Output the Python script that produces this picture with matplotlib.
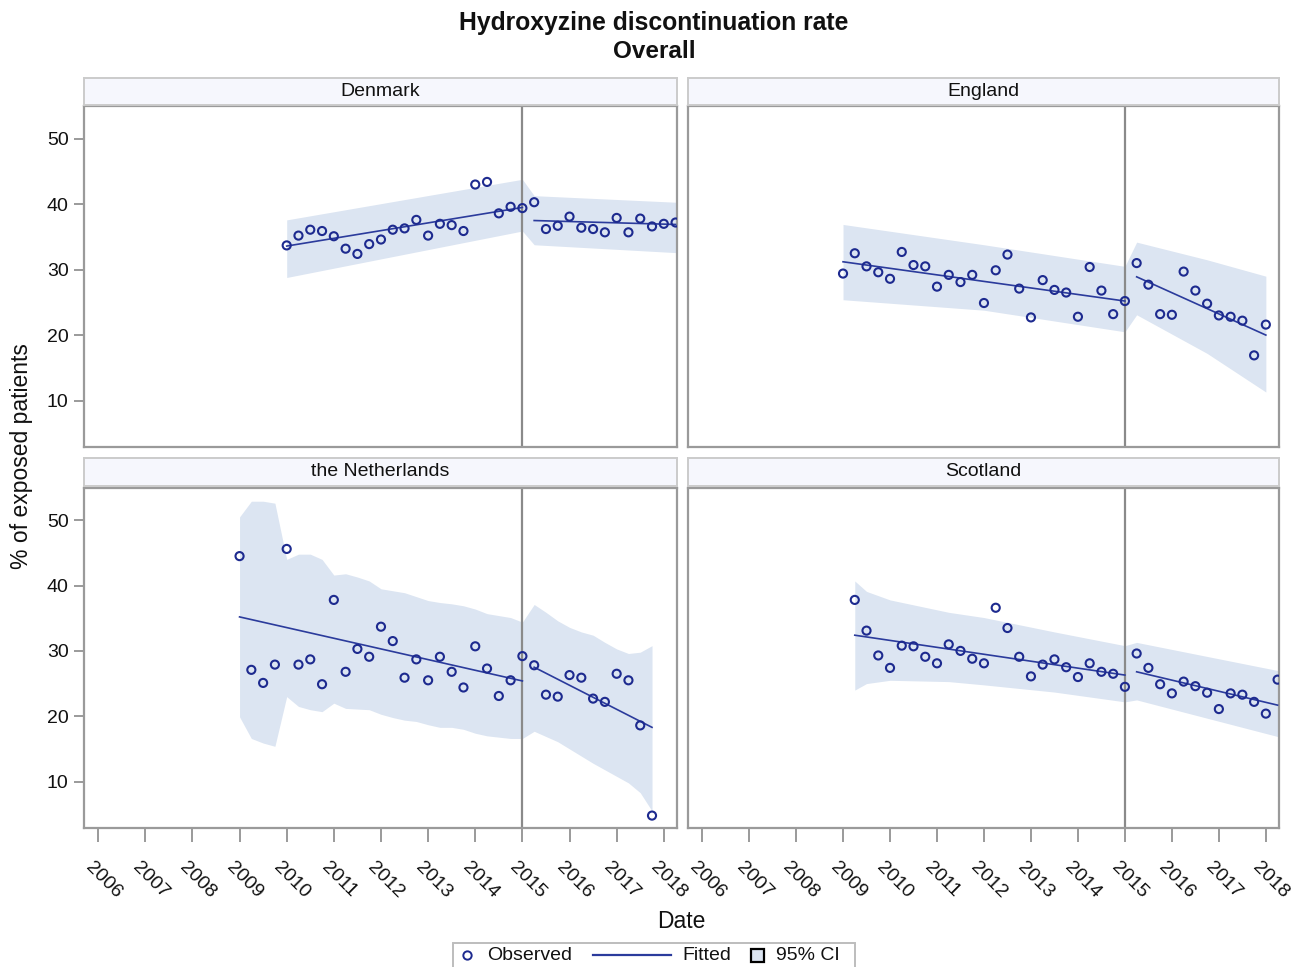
import numpy as np
import matplotlib
matplotlib.use("Agg")
import matplotlib.pyplot as plt
from matplotlib.lines import Line2D
from matplotlib.patches import Rectangle
from matplotlib.transforms import ScaledTranslation

plt.rcParams["font.family"] = ["Liberation Sans", "DejaVu Sans"]

years = list(range(2006, 2019))
break_year = 2015.0

dk_start = 2010.0
dk_obs = [33.7, 35.2, 36.1, 35.9, 35.1, 33.2, 32.4, 33.9, 34.6, 36.1, 36.3, 37.6,
          35.2, 37.0, 36.8, 35.9, 43.0, 43.4, 38.6, 39.6, 39.4,
          40.3, 36.2, 36.7, 38.1, 36.4, 36.2, 35.7, 37.9, 35.7, 37.8, 36.6, 37.0, 37.2]
dk_fit_x = [2010.0, 2015.0, 2015.25, 2018.25]
dk_fit_y = [33.6, 39.5, 37.5, 36.9]
dk_band_x = [2010.0, 2015.0, 2015.25, 2018.25]
dk_band_lo = [28.8, 35.9, 33.8, 32.6]
dk_band_hi = [37.6, 43.8, 41.3, 40.3]

en_start = 2009.0
en_obs = [29.4, 32.5, 30.5, 29.6, 28.6, 32.7, 30.7, 30.5, 27.4, 29.2, 28.1, 29.2,
          24.9, 29.9, 32.3, 27.1, 22.7, 28.4, 26.9, 26.5, 22.8, 30.4, 26.8, 23.2, 25.2,
          31.0, 27.7, 23.2, 23.1, 29.7, 26.8, 24.8, 23.0, 22.8, 22.2, 16.9, 21.6]
en_fit_x = [2009.0, 2015.0, 2015.25, 2018.0]
en_fit_y = [31.2, 25.2, 28.9, 20.0]
en_band_x = [2009.0, 2012.0, 2015.0, 2015.25, 2016.75, 2018.0]
en_band_lo = [25.4, 23.8, 20.5, 23.1, 17.2, 11.3]
en_band_hi = [36.9, 33.8, 30.5, 34.2, 31.5, 29.0]

nl_start = 2009.0
nl_obs = [44.5, 27.1, 25.1, 27.9, 45.6, 27.9, 28.7, 24.9, 37.8, 26.8, 30.3, 29.1,
          33.7, 31.5, 25.9, 28.7, 25.5, 29.1, 26.8, 24.4, 30.7, 27.3, 23.1, 25.5, 29.2,
          27.8, 23.3, 23.0, 26.3, 25.9, 22.7, 22.2, 26.5, 25.5, 18.6, 4.8]
nl_fit_x = [2009.0, 2015.0, 2015.25, 2017.75]
nl_fit_y = [35.2, 25.4, 27.5, 18.3]
nl_band_lo = [19.9, 16.6, 15.9, 15.4, 23.0, 21.5, 21.0, 20.7, 22.0, 21.2, 21.1, 21.0,
              20.3, 19.8, 19.4, 19.2, 18.7, 18.3, 18.3, 18.0, 17.4, 17.0, 16.8, 16.6, 16.6,
              17.7, 16.9, 16.1, 15.0, 13.9, 12.8, 11.8, 10.8, 9.8, 8.3, 5.5]
nl_band_hi = [50.5, 52.9, 52.9, 52.6, 44.0, 44.8, 44.8, 44.0, 41.6, 41.8, 41.3, 40.7,
              39.5, 39.2, 38.9, 38.3, 37.7, 37.4, 37.2, 36.9, 36.4, 35.7, 35.4, 35.1, 34.4,
              37.1, 35.9, 34.6, 33.6, 32.9, 32.4, 31.3, 30.3, 29.6, 29.8, 30.8]

sc_start = 2009.25
sc_obs = [37.8, 33.1, 29.3, 27.4, 30.8, 30.7, 29.1, 28.1, 31.0, 30.0, 28.8, 28.1,
          36.6, 33.5, 29.1, 26.1, 27.9, 28.7, 27.5, 26.0, 28.1, 26.8, 26.5, 24.5,
          29.6, 27.4, 24.9, 23.5, 25.3, 24.6, 23.6, 21.1, 23.5, 23.3, 22.2, 20.4, 25.6]
sc_fit_x = [2009.25, 2015.0, 2015.25, 2018.25]
sc_fit_y = [32.4, 26.3, 26.8, 21.7]
sc_band_x = [2009.25, 2009.5, 2010.0, 2011.25, 2012.0, 2013.5, 2015.0, 2015.25, 2018.25]
sc_band_lo = [24.0, 25.0, 25.5, 25.3, 24.8, 23.7, 22.2, 22.5, 16.9]
sc_band_hi = [40.7, 39.1, 37.8, 35.9, 35.1, 32.9, 30.8, 31.3, 27.0]


def quarters(start, n):
    return start + 0.25 * np.arange(n)


nl_x = quarters(nl_start, len(nl_obs))
panels = [
    ("Denmark", quarters(dk_start, len(dk_obs)), dk_obs, dk_fit_x, dk_fit_y, dk_band_x, dk_band_lo, dk_band_hi),
    ("England", quarters(en_start, len(en_obs)), en_obs, en_fit_x, en_fit_y, en_band_x, en_band_lo, en_band_hi),
    ("the Netherlands", nl_x, nl_obs, nl_fit_x, nl_fit_y, nl_x, nl_band_lo, nl_band_hi),
    ("Scotland", quarters(sc_start, len(sc_obs)), sc_obs, sc_fit_x, sc_fit_y, sc_band_x, sc_band_lo, sc_band_hi),
]

MARK = "#1d2a8f"
LINE = "#2b3b9c"
BAND = "#dce5f2"
FRAME = "#9a9a9a"
REF = "#8a8a8a"

W, H = 1305, 967
fig = plt.figure(figsize=(W / 100, H / 100), dpi=100)


def box(x0, y0, x1, y1):
    # pixel box (top-left origin) -> figure fraction rect
    return [x0 / W, 1 - y1 / H, (x1 - x0) / W, (y1 - y0) / H]


cols = [(84, 677), (688, 1279)]
rows = [((78, 104.5), (106, 447)), ((458, 485.5), (487.5, 828))]

for k, (name, x, obs, fx, fy, bx, blo, bhi) in enumerate(panels):
    r, c = divmod(k, 2)
    (sy0, sy1), (py0, py1) = rows[r]
    cx0, cx1 = cols[c]

    ax = fig.add_axes(box(cx0, py0, cx1, py1))
    ax.fill_between(bx, blo, bhi, color=BAND, lw=0, zorder=1)
    ax.plot(fx[:2], fy[:2], color=LINE, lw=1.2, zorder=3)
    ax.plot(fx[2:], fy[2:], color=LINE, lw=1.2, zorder=3)
    ax.scatter(x, obs, s=34, facecolors="none", edgecolors=MARK, linewidths=1.5, zorder=4)
    ax.axvline(break_year, color=REF, lw=1.6, zorder=2)
    ax.set_xlim(2005.7, 2018.28)
    ax.set_ylim(2.9, 55.0)
    for sp in ax.spines.values():
        sp.set_color(FRAME)
        sp.set_linewidth(1.6)
    ax.tick_params(colors=FRAME, labelcolor="#111111", width=1.4)

    if c == 0:
        ax.set_yticks([10, 20, 30, 40, 50])
        ax.tick_params(axis="y", length=7, pad=4, labelsize=14)
    else:
        ax.set_yticks([])
    if r == 1:
        ax.set_xticks(years)
        ax.set_xticklabels([str(y) for y in years], rotation=-45, ha="center", va="top")
        ax.tick_params(axis="x", length=10, pad=12, labelsize=14)
        for lab in ax.get_xticklabels():
            lab.set_transform(lab.get_transform() + ScaledTranslation(0.05, 0, fig.dpi_scale_trans))
    else:
        ax.set_xticks([])

    sax = fig.add_axes(box(cx0, sy0, cx1, sy1))
    sax.set_facecolor("#f6f7fd")
    sax.set_xticks([])
    sax.set_yticks([])
    for sp in sax.spines.values():
        sp.set_color("#cbcbcb")
        sp.set_linewidth(1.4)
    sax.text(0.5, 0.5, name, ha="center", va="center", fontsize=14, color="#111111",
             transform=sax.transAxes)

fig.text(654 / W, 1 - 23 / H, "Hydroxyzine discontinuation rate", ha="center", va="center",
         fontsize=17.8, fontweight="bold", color="#111111")
fig.text(654 / W, 1 - 52 / H, "Overall", ha="center", va="center",
         fontsize=17.5, fontweight="bold", color="#111111")
fig.text(681 / W, 1 - 922 / H, "Date", ha="center", va="center", fontsize=16.5, color="#111111")
fig.text(22 / W, 1 - 456 / H, "% of exposed patients", ha="center", va="center",
         rotation=90, fontsize=16.5, color="#111111")

# legend, drawn by hand to match the SAS layout
fig.patches.append(Rectangle((453 / W, 1 - 985 / H), 402 / W, 42 / H, transform=fig.transFigure,
                             facecolor="white", edgecolor="#bdbdbd", lw=1.4))
ly = 1 - 955 / H
fig.add_artist(Line2D([467 / W], [ly], marker="o", mfc="none", mec=MARK, ms=6, mew=1.4,
                      transform=fig.transFigure))
fig.text(487 / W, ly, "Observed", va="center", fontsize=14, color="#111111")
fig.add_artist(Line2D([593 / W, 671 / W], [ly, ly], color=LINE, lw=1.6, transform=fig.transFigure))
fig.text(682 / W, ly, "Fitted", va="center", fontsize=14, color="#111111")
fig.patches.append(Rectangle((751 / W, 1 - 962 / H), 13 / W, 13 / H, transform=fig.transFigure,
                             facecolor=BAND, edgecolor="black", lw=1.6))
fig.text(776 / W, ly, "95% CI", va="center", fontsize=14, color="#111111")

fig.savefig("out.png", dpi=100)
